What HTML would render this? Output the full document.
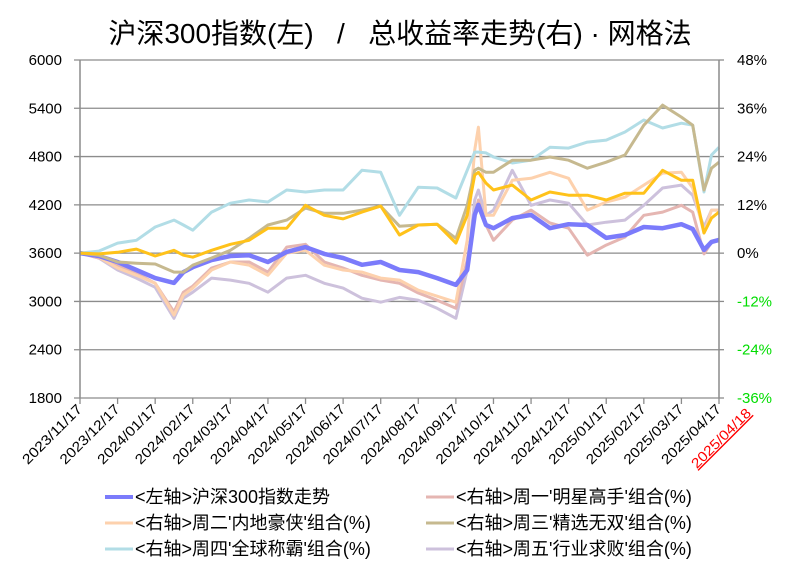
<!DOCTYPE html>
<html><head><meta charset="utf-8">
<style>
body{margin:0;background:#fff;}
svg{display:block;font-family:"Liberation Sans","Noto Sans CJK SC",sans-serif;}
</style></head>
<body>
<svg id="chart" width="800" height="580" viewBox="0 0 800 580">
<rect width="800" height="580" fill="#fff"/>
<text x="400" y="43" text-anchor="middle" font-size="28" fill="#000" style="white-space:pre" xml:space="preserve">沪深300指数(左)   /   总收益率走势(右) · 网格法</text>
<g id="grid"></g><g id="series"></g><g id="axes"></g><g id="legend"></g>
</svg>
<script>
// time in months since 2023/11/17
const times = [0,0.5,1,1.5,2,2.5,2.75,3,3.5,4,4.5,5,5.5,6,6.5,7,7.5,8,8.5,9,9.5,10,10.3,10.5,10.6,10.8,11,11.5,12,12.5,13,13.5,14,14.5,15,15.5,16,16.3,16.6,16.8,17];
const monthLabels = ["2023/11/17","2023/12/17","2024/01/17","2024/02/17","2024/03/17","2024/04/17","2024/05/17","2024/06/17","2024/07/17","2024/08/17","2024/09/17","2024/10/17","2024/11/17","2024/12/17","2025/01/17","2025/02/17","2025/03/17","2025/04/17"];
const leftTicks = [1800,2400,3000,3600,4200,4800,5400,6000];
const rightTicks = [-36,-24,-12,0,12,24,36,48];
const indexValues = [3600,3565,3490,3390,3290,3230,3365,3425,3515,3565,3575,3490,3615,3675,3590,3540,3455,3490,3390,3365,3290,3205,3390,4075,4200,3950,3910,4035,4075,3910,3960,3950,3790,3825,3925,3910,3960,3900,3640,3740,3765];
const mon = [0,-1.2,-3.2,-5.0,-7.5,-14.6,-9.7,-8.2,-3.7,-2.2,-2.2,-4.7,1.5,2.2,-2.2,-3.7,-5.5,-6.7,-7.5,-9.9,-11.7,-13.7,-1.7,9.4,13.2,7.0,3.2,8.2,10.7,7.5,6.2,-0.5,2.0,4.0,9.4,10.2,11.9,10.2,-0.2,2.7,3.2];
const tue = [0,-1.0,-3.7,-5.5,-7.5,-15.4,-10.4,-8.7,-4.2,-2.2,-3.0,-5.5,0,0.7,-3.0,-4.2,-4.7,-6.2,-6.7,-9.2,-10.7,-12.2,3.2,25.6,31.3,9.4,9.4,18.1,18.6,20.1,18.6,10.7,12.7,13.9,16.9,19.9,20.1,16.2,5.0,10.7,10.7];
const wed = [0,-0.5,-2.2,-2.5,-2.7,-4.7,-4.7,-3.0,-1.2,0.7,3.7,7.0,8.2,11.2,9.9,9.9,10.7,11.7,6.7,7.0,7.2,3.7,11.9,20.6,21.1,20.1,20.1,23.1,23.1,23.9,23.1,21.1,22.6,24.4,31.8,36.8,33.8,31.8,15.7,21.1,22.6];
const thu = [0,0.5,2.5,3.2,6.5,8.2,7.0,5.7,10.2,12.4,13.2,12.7,15.7,15.2,15.7,15.7,20.6,20.1,9.4,16.4,16.2,13.7,20.6,25.1,25.1,24.9,23.9,22.4,23.1,26.3,26.1,27.6,28.1,30.1,33.1,31.1,32.3,31.8,15.2,24.4,26.3];
const fri = [0,-1.2,-4.2,-6.2,-8.5,-16.2,-11.2,-9.7,-6.2,-6.7,-7.5,-9.7,-6.2,-5.5,-7.5,-8.7,-11.2,-12.2,-11.0,-11.7,-13.7,-16.2,-4.2,13.2,15.7,9.4,10.7,20.6,11.9,13.2,12.4,7.0,7.7,8.2,11.9,16.2,16.9,14.4,6.5,10.7,10.7];
const avg = [0,-0.2,0.2,1.0,-0.7,0.7,-0.5,-1.0,0.7,2.2,3.2,6.2,6.2,11.9,9.4,8.5,10.2,11.7,4.5,7.0,7.2,2.5,9.4,19.4,20.1,17.4,15.7,16.9,13.2,15.2,14.4,14.4,13.2,14.9,14.9,20.6,18.1,18.1,5.0,8.7,10.2];

const NS="http://www.w3.org/2000/svg";
const X0=80,X1=719,Y0=398,Y1=60;
const xs=t=>X0+t*(X1-X0)/17;
const yl=v=>Y0-(v-1800)*(Y0-Y1)/4200;
const yr=p=>Y0-(p+36)*(Y0-Y1)/84;
function mk(tag,attrs,parent){const e=document.createElementNS(NS,tag);for(const k in attrs)e.setAttribute(k,attrs[k]);parent.appendChild(e);return e;}
const grid=document.getElementById('grid'),axes=document.getElementById('axes'),ser=document.getElementById('series'),leg=document.getElementById('legend');

leftTicks.forEach((v,i)=>{
  const y=yl(v);
  const l=mk('line',{x1:X0-6,x2:X1,y1:y,y2:y,stroke:'#8c8c8c','stroke-width':1.3},grid);
  
  
  const t=mk('text',{x:62,y:y+5,'text-anchor':'end','font-size':15,fill:'#000'},axes);
  t.textContent=v;
  
  
  const p=rightTicks[i];
  const r=mk('text',{x:737,y:y+5,'font-size':15,fill:p<0?'#00dd00':'#000'},axes);
  r.textContent=p+'%';
  
  
  mk('line',{x1:X1,x2:X1+5,y1:y,y2:y,stroke:'#8c8c8c','stroke-width':1.3},axes);
});
mk('line',{x1:X0,x2:X0,y1:Y1,y2:Y0,stroke:'#8c8c8c','stroke-width':1.5},axes);
mk('line',{x1:X1,x2:X1,y1:Y1,y2:Y0,stroke:'#8c8c8c','stroke-width':1.5},axes);
monthLabels.forEach((s,i)=>{
  const x=xs(i);
  mk('line',{x1:x,x2:x,y1:Y0,y2:Y0+6,stroke:'#8c8c8c','stroke-width':1.3},axes);
  const t=mk('text',{x:x+3,y:Y0+12,'text-anchor':'end','font-size':14,fill:'#000',textLength:78,lengthAdjust:'spacingAndGlyphs',transform:`rotate(-45 ${x+3} ${Y0+12})`},axes);
  t.textContent=s;
  
  
});
const lx=752,ly=414;
const last=mk('text',{x:lx,y:ly,'text-anchor':'end','font-size':14,fill:'#ff0000','text-decoration':'underline',textLength:78,lengthAdjust:'spacingAndGlyphs',transform:`rotate(-45 ${lx} ${ly})`},axes);
last.textContent='2025/04/18';



function line(vals,yf,color,w,name){
  const d=vals.map((v,i)=>(i?'L':'M')+xs(times[i]).toFixed(1)+' '+yf(v).toFixed(1)).join(' ');
  const p=mk('path',{d:d,fill:'none',stroke:color,'stroke-width':w,'stroke-linejoin':'round'},ser);
  
  
}
line(fri,yr,'#cdc1dc',3,'series-fri');
line(mon,yr,'#e5b6b2',3,'series-mon');
line(tue,yr,'#fdd1ad',3,'series-tue');
line(indexValues,yl,'#7b7bfb',4.5,'series-csi300');
line(thu,yr,'#b2dde6',3,'series-thu');
line(wed,yr,'#c6b98f',3,'series-wed');
line(avg,yr,'#ffc21a',3,'series-average');

const legendNames=["<左轴>沪深300指数走势","<右轴>周一'明星高手'组合(%)","<右轴>周二'内地豪侠'组合(%)","<右轴>周三'精选无双'组合(%)","<右轴>周四'全球称霸'组合(%)","<右轴>周五'行业求败'组合(%)"];
const legendColors=['#7b7bfb','#e5b6b2','#fdd1ad','#c6b98f','#b2dde6','#cdc1dc'];
legendNames.forEach((n,i)=>{
  const col=i%2,row=Math.floor(i/2);
  const x=col?426:105,y=497+row*26;
  const g=mk('g',{},leg);
  
  
  mk('line',{x1:x,x2:x+28,y1:y,y2:y,stroke:legendColors[i],'stroke-width':i?3:4},g);
  const t=mk('text',{x:x+30,y:y+6,'font-size':18,fill:'#000'},g);
  t.textContent=n;
});
</script>
</body></html>
